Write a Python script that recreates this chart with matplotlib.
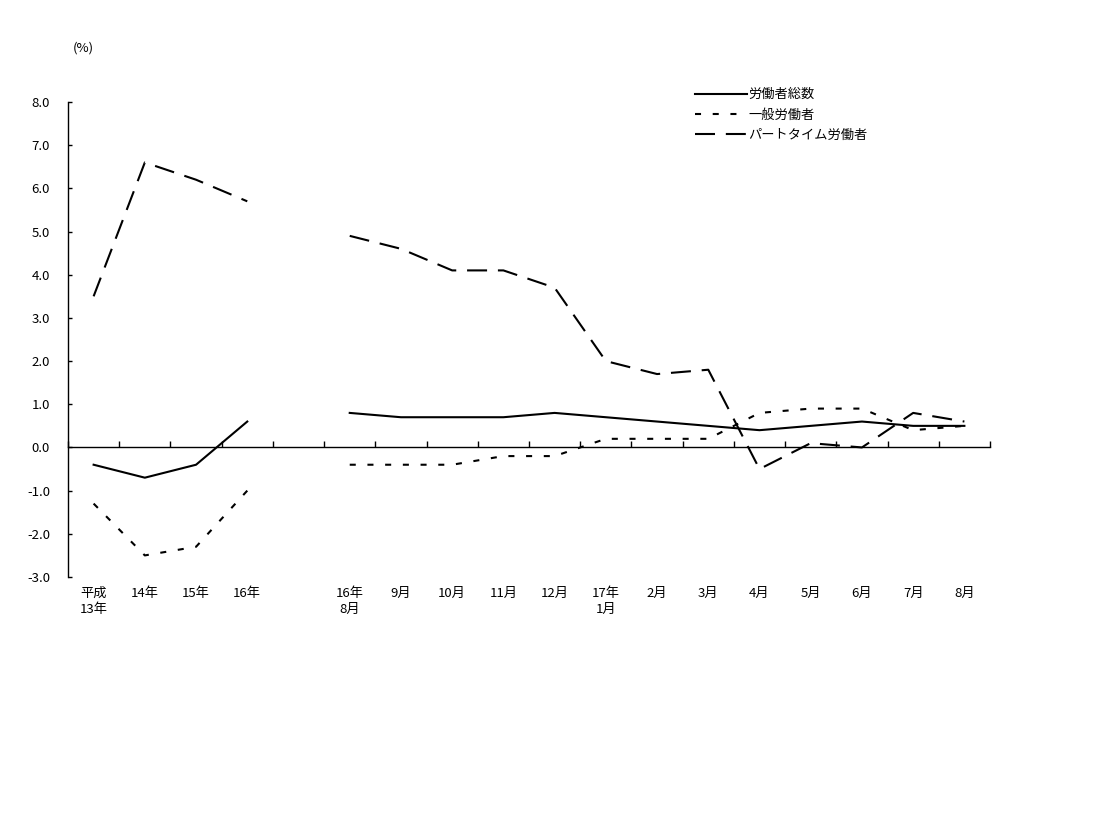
import numpy as np
import matplotlib.pyplot as plt
from matplotlib.lines import Line2D
from matplotlib.transforms import blended_transform_factory

plt.rcParams['font.family'] = ['Noto Sans CJK JP', 'DejaVu Sans']

# 年次 (平成13〜16年) と月次 (16年8月〜17年8月)
year_labels = ['平成\n13年', '14年', '15年', '16年']
month_labels = ['16年\n8月', '9月', '10月', '11月', '12月', '17年\n1月', '2月',
                '3月', '4月', '5月', '6月', '7月', '8月']

total_year = [-0.4, -0.7, -0.4, 0.6]
total_month = [0.8, 0.7, 0.7, 0.7, 0.8, 0.7, 0.6, 0.5, 0.4, 0.5, 0.6, 0.5, 0.5]

general_year = [-1.3, -2.5, -2.3, -1.0]
general_month = [-0.4, -0.4, -0.4, -0.2, -0.2, 0.2, 0.2, 0.2, 0.8, 0.9, 0.9, 0.4, 0.5]

part_year = [3.5, 6.6, 6.2, 5.7]
part_month = [4.9, 4.6, 4.1, 4.1, 3.7, 2.0, 1.7, 1.8, -0.5, 0.1, 0.0, 0.8, 0.6]

series_names = ['労働者総数', '一般労働者', 'パートタイム労働者']

# x位置: 年次 0..3, 空き 4, 月次 5..17 (各区間の中央)
x_year = np.arange(len(year_labels)) + 0.5
x_month = np.arange(len(month_labels)) + len(year_labels) + 1 + 0.5
n_slots = len(year_labels) + 1 + len(month_labels)

fig = plt.figure(figsize=(11.2, 8.4), dpi=100)
ax = fig.add_axes([68 / 1120, 1 - 577 / 840, 922 / 1120, 475 / 840])

lw = 1.5
fs = 9.5
styles = [
    dict(linestyle='-'),
    dict(linestyle=(0, (2.9, 5.6))),
    dict(linestyle=(0, (9.6, 5.2))),
]
year_data = [total_year, general_year, part_year]
month_data = [total_month, general_month, part_month]

for i in range(3):
    ax.plot(x_year, year_data[i], color='black', lw=lw, **styles[i])
    ax.plot(x_month, month_data[i], color='black', lw=lw, **styles[i])

ax.set_xlim(0, n_slots)
ax.set_ylim(-3, 8)
ax.set_yticks(np.arange(-3, 9, 1))
ax.set_yticklabels([f'{v:.1f}' for v in np.arange(-3, 9, 1)], fontsize=fs)
ax.tick_params(axis='y', direction='in', length=3, pad=13, width=1)

# 横軸はゼロの位置に
ax.spines['top'].set_visible(False)
ax.spines['right'].set_visible(False)
ax.spines['bottom'].set_position(('data', 0))
ax.spines['left'].set_linewidth(1)
ax.spines['bottom'].set_linewidth(1)
ax.set_xticks(np.arange(0, n_slots + 1))
ax.tick_params(axis='x', direction='in', length=4, labelbottom=False, width=1)

# 軸ラベル (グラフの下に配置)
trans = blended_transform_factory(ax.transData, ax.transAxes)
for x, lab in zip(list(x_year) + list(x_month), year_labels + month_labels):
    ax.text(x, -0.021, lab, transform=trans, ha='center', va='top',
            fontsize=fs, linespacing=1.3)

fig.text(83 / 1120, 1 - 48 / 840, '(%)', ha='center', va='center', fontsize=fs)

handles = [Line2D([], [], color='black', lw=lw, **s) for s in styles]
fig.legend(handles, series_names, loc='upper left',
           bbox_to_anchor=(690 / 1120, 1 - 83 / 840), frameon=False,
           fontsize=fs, handlelength=3.9, handletextpad=0.1,
           labelspacing=0.55, borderaxespad=0)

fig.savefig('out.png', dpi=100)
